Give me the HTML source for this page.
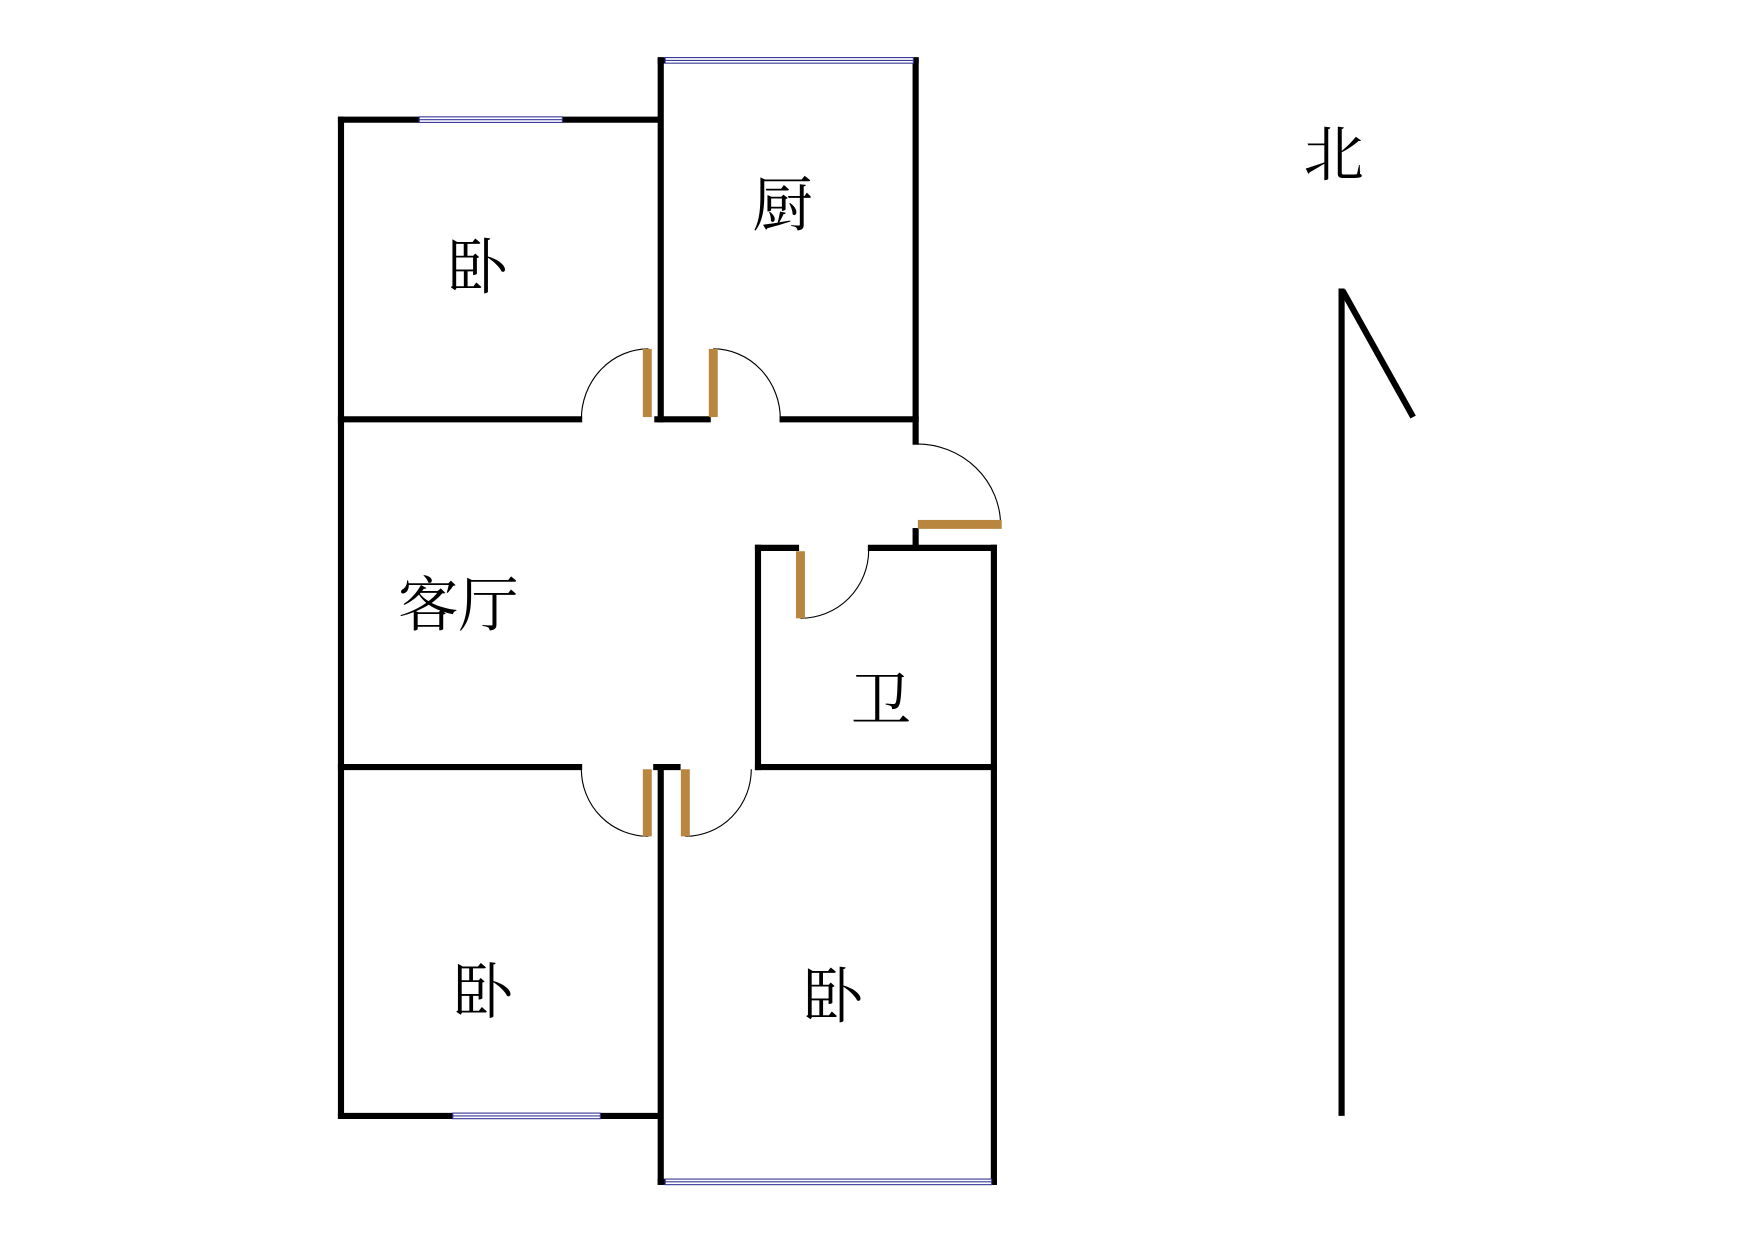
<!DOCTYPE html>
<html><head><meta charset="utf-8"><style>html,body{margin:0;padding:0;background:#fff}svg{display:block}</style></head>
<body>
<svg width="1753" height="1240" viewBox="0 0 1568 1109" preserveAspectRatio="none" xmlns="http://www.w3.org/2000/svg">
<rect width="1568" height="1109" fill="#fff"/>
<g stroke="#000" stroke-width="5.5" fill="none" stroke-linecap="square">
<line x1="305" y1="107" x2="305" y2="998"/>
<line x1="305" y1="107" x2="590" y2="107"/>
<line x1="591" y1="54" x2="591" y2="375"/>
<line x1="591" y1="54" x2="819" y2="54"/>
<line x1="819" y1="54" x2="819" y2="395"/>
<line x1="305" y1="375" x2="518" y2="375"/>
<line x1="588" y1="375" x2="633" y2="375"/>
<line x1="700" y1="375" x2="819" y2="375"/>
<line x1="819" y1="475" x2="819" y2="490"/>
<line x1="678" y1="490" x2="712" y2="490"/>
<line x1="779" y1="490" x2="889" y2="490"/>
<line x1="678" y1="490" x2="678" y2="686"/>
<line x1="889" y1="490" x2="889" y2="1057"/>
<line x1="305" y1="686" x2="518" y2="686"/>
<line x1="587" y1="686" x2="606" y2="686"/>
<line x1="678" y1="686" x2="889" y2="686"/>
<line x1="591" y1="686" x2="591" y2="1057"/>
<line x1="305" y1="998" x2="588" y2="998"/>
<line x1="591" y1="1057" x2="889" y2="1057"/>
<line x1="1200" y1="258" x2="1200" y2="998" stroke-linecap="butt"/>
<line x1="1201" y1="260" x2="1264" y2="373" stroke-linecap="butt"/>
</g>
<g fill="#fff" stroke="#3a3a9a" stroke-width="1">
<rect x="375" y="104.5" width="128" height="5"/>
<rect x="595" y="51.5" width="222" height="5"/>
<rect x="405" y="995.5" width="132" height="5"/>
<rect x="595" y="1054.5" width="292" height="5"/>
</g>
<g stroke="#3a3a9a" stroke-width="1">
<line x1="375" y1="107" x2="503" y2="107"/>
<line x1="595" y1="54" x2="817" y2="54"/>
<line x1="405" y1="998" x2="537" y2="998"/>
<line x1="595" y1="1057" x2="887" y2="1057"/>
</g>
<g stroke="#000" stroke-width="1" fill="none">
<path d="M520,375 A60,63 0 0 1 580,312"/>
<path d="M638,312 A60,63 0 0 1 698,375"/>
<path d="M820,397 A75,73 0 0 1 895,470"/>
<path d="M716,553 A61,61 0 0 0 777,492"/>
<path d="M520,688 A60,60 0 0 0 580,748"/>
<path d="M613,748 A59,60 0 0 0 672,688"/>
</g>
<g fill="#b8863f">
<rect x="575" y="312" width="8" height="61"/>
<rect x="634" y="312" width="8" height="61"/>
<rect x="821" y="465" width="75" height="8"/>
<rect x="712" y="493" width="8" height="60"/>
<rect x="575" y="688" width="8" height="60"/>
<rect x="609" y="688" width="8" height="60"/>
</g>
<g font-family="'Liberation Serif','Noto Serif CJK SC',serif" font-size="54" fill="#000" text-anchor="middle">
<text x="427" y="258">卧</text>
<text x="700" y="202">厨</text>
<text x="410" y="560">客厅</text>
<text x="788" y="645">卫</text>
<text x="432" y="906">卧</text>
<text x="745" y="910">卧</text>
<text x="1193" y="157">北</text>
</g>
</svg>
</body></html>
